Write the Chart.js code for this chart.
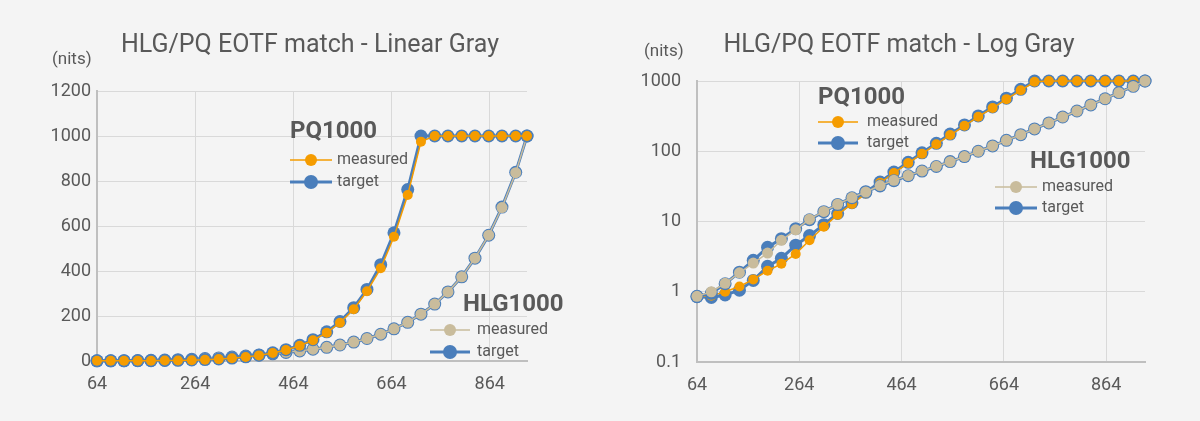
<!DOCTYPE html>
<html><head><meta charset="utf-8">
<script src="https://cdn.jsdelivr.net/npm/chart.js@4/dist/chart.umd.min.js"></script>
<style>
html,body{margin:0;padding:0;background:#f4f4f4;}
#wrap{display:flex;width:1200px;height:421px;}
.box{position:relative;width:600px;height:421px;}
canvas{display:block;}
</style></head><body>
<div id="wrap"><div class="box"><canvas id="c1" width="600" height="421"></canvas></div><div class="box"><canvas id="c2" width="600" height="421"></canvas></div></div>
<script>
// ---- data ----
const codeValues = [64, 92, 119, 147, 174, 202, 229, 257, 284, 312, 339, 367, 394, 422, 449, 477, 504, 532, 559, 587, 614, 642, 669, 697, 724, 752, 779, 807, 834, 862, 889, 917, 940];
const pqMeasured = [0.85, 0.88, 1.0, 1.19, 1.5, 1.99, 2.5, 3.45, 5.4, 8.4, 12.5, 17.8, 25, 35.5, 49, 68, 92, 126, 170, 230, 310, 412, 552, 738, 975, 1000, 1000, 1000, 1000, 1000, 1000, 1000, 1000];
const pqTarget = [0.85, 0.83, 0.9, 1.05, 1.45, 2.3, 3.0, 4.6, 6.3, 9.0, 13, 18.5, 26, 36.5, 50.5, 69.5, 95, 129.5, 175.5, 237, 318, 428, 570, 762, 1000, 1000, 1000, 1000, 1000, 1000, 1000, 1000, 1000];
const hlgMeasured = [0.86, 1.0, 1.32, 1.86, 2.56, 3.55, 5.4, 7.6, 10.8, 13.9, 17.6, 21.9, 26.3, 32.5, 38.5, 45, 52.5, 61, 71, 84, 100, 119, 143, 172, 208, 253, 307, 374, 457, 559, 682, 837, 1000];
const hlgTarget = [0.86, 0.95, 1.3, 1.9, 2.8, 4.3, 5.7, 7.9, 10.6, 13.8, 17.5, 21.8, 26.6, 32, 38, 44.8, 52.2, 60.7, 71.2, 84, 100, 119, 143, 172, 208, 253, 307, 374, 457, 559, 684, 839, 1000];
const xTicks = [64, 264, 464, 664, 864];
const linearYTicks = [0, 200, 400, 600, 800, 1000, 1200];
const logYTicks = [0.1, 1, 10, 100, 1000];
const logYLabels = ['0.1', '1', '10', '100', '1000'];
const chartTitles = ['HLG/PQ EOTF match - Linear Gray', 'HLG/PQ EOTF match - Log Gray'];
const unitLabel = '(nits)';
const groupNames = ['PQ1000', 'HLG1000'];
const seriesNames = ['measured', 'target'];

// ---- styles ----
const FONT = 'Roboto, "Open Sans", sans-serif';
const TXT = '#595959';
const ORANGE = '#f59c00';
const BLUE = '#4a7ebb';
const TAN = '#c9bc9c';
const GRID = '#d9d9d9';
const AXIS = '#bfbfbf';

const pts = arr => codeValues.map((x, i) => ({x: x, y: arr[i]}));

function ds(label, arr, color, lw, r, order) {
  return {label: label, data: pts(arr), showLine: true, borderColor: color, backgroundColor: color,
    borderWidth: lw, pointRadius: r, pointHoverRadius: r, pointBorderWidth: 0,
    pointBackgroundColor: color, order: order, clip: false, tension: 0};
}

function legendPlugin(cfg) {
  return {
    id: 'deco',
    afterDraw(chart) {
      const ctx = chart.ctx;
      ctx.save();
      ctx.fillStyle = TXT;
      ctx.textBaseline = 'middle';
      // title
      ctx.font = '25px ' + FONT;
      ctx.textAlign = 'center';
      ctx.fillText(cfg.title, cfg.titleX, cfg.titleY);
      // unit
      ctx.font = '17px ' + FONT;
      ctx.textAlign = 'left';
      ctx.fillText(unitLabel, cfg.unitX, cfg.unitY);
      // legends
      cfg.legends.forEach(lg => {
        ctx.font = 'bold 24px ' + FONT;
        ctx.fillStyle = TXT;
        ctx.textAlign = 'left';
        ctx.fillText(lg.name, lg.x, lg.y);
        lg.items.forEach((it, k) => {
          const yy = lg.y + lg.dy0 + k * lg.dy;
          ctx.strokeStyle = it.color;
          ctx.lineWidth = it.lw;
          ctx.beginPath();
          ctx.moveTo(lg.lx0, yy);
          ctx.lineTo(lg.lx1, yy);
          ctx.stroke();
          ctx.fillStyle = it.color;
          ctx.beginPath();
          ctx.arc((lg.lx0 + lg.lx1) / 2, yy, it.r, 0, Math.PI * 2);
          ctx.fill();
          ctx.fillStyle = TXT;
          ctx.font = '16px ' + FONT;
          ctx.fillText(it.label, lg.tx, yy);
        });
      });
      ctx.restore();
    }
  };
}

function makeChart(id, isLog, layoutCfg, deco, datasets) {
  const yTicks = isLog ? logYTicks : linearYTicks;
  return new Chart(document.getElementById(id), {
    type: 'scatter',
    data: {datasets: datasets},
    options: {
      responsive: false, animation: false, devicePixelRatio: 1,
      layout: {padding: layoutCfg.padding},
      plugins: {legend: {display: false}, tooltip: {enabled: false}, title: {display: false}},
      scales: {
        x: {
          type: 'linear', min: 64, max: 940,
          afterBuildTicks: s => { s.ticks = xTicks.map(v => ({value: v})); },
          afterFit: s => { s.height = 40; },
          ticks: {color: TXT, font: {family: FONT, size: 18}, padding: layoutCfg.xPad, maxRotation: 0, autoSkip: false,
            callback: v => String(v)},
          grid: {color: GRID, lineWidth: 1, drawTicks: false},
          border: {color: AXIS, width: 2}
        },
        y: {
          type: isLog ? 'logarithmic' : 'linear',
          min: yTicks[0], max: yTicks[yTicks.length - 1],
          afterBuildTicks: s => { s.ticks = yTicks.map(v => ({value: v})); },
          afterFit: s => { s.width = layoutCfg.yWidth; },
          ticks: {color: TXT, font: {family: FONT, size: 18}, padding: layoutCfg.yPad, autoSkip: false,
            callback: v => isLog ? logYLabels[logYTicks.indexOf(v)] : String(v)},
          grid: {color: GRID, lineWidth: 1, drawTicks: false},
          border: {color: AXIS, width: 2}
        }
      }
    },
    plugins: [legendPlugin(deco)]
  });
}

// Left: linear
makeChart('c1', false,
  {padding: {left: 0, right: 73, top: 91, bottom: 20}, yWidth: 97, yPad: 6, xPad: 13},
  {title: chartTitles[0], titleX: 310, titleY: 46, unitX: 52, unitY: 60,
   legends: [
     {name: groupNames[0], x: 290, y: 132, lx0: 290, lx1: 332, tx: 337, dy0: 28, dy: 22,
      items: [{label: seriesNames[0], color: ORANGE, lw: 1.5, r: 6}, {label: seriesNames[1], color: BLUE, lw: 3, r: 7}]},
     {name: groupNames[1], x: 463, y: 305, lx0: 430, lx1: 470, tx: 477, dy0: 25, dy: 22,
      items: [{label: seriesNames[0], color: TAN, lw: 1.5, r: 6}, {label: seriesNames[1], color: BLUE, lw: 3, r: 7}]}
   ]},
  [
    ds('PQ measured', pqMeasured, ORANGE, 1.5, 5, 0),
    ds('PQ target', pqTarget, BLUE, 3, 6.5, 1),
    ds('HLG measured', hlgMeasured, TAN, 1.5, 5.5, 2),
    ds('HLG target', hlgTarget, BLUE, 3, 6.5, 3)
  ]);

// Right: log
makeChart('c2', true,
  {padding: {left: 0, right: 55, top: 81, bottom: 19}, yWidth: 97, yPad: 16, xPad: 13},
  {title: chartTitles[1], titleX: 299, titleY: 46, unitX: 44, unitY: 52,
   legends: [
     {name: groupNames[0], x: 218, y: 98, lx0: 218, lx1: 258, tx: 267, dy0: 24, dy: 21,
      items: [{label: seriesNames[0], color: ORANGE, lw: 1.5, r: 6}, {label: seriesNames[1], color: BLUE, lw: 3, r: 7}]},
     {name: groupNames[1], x: 430, y: 162, lx0: 395, lx1: 437, tx: 442, dy0: 25, dy: 21,
      items: [{label: seriesNames[0], color: TAN, lw: 1.5, r: 6}, {label: seriesNames[1], color: BLUE, lw: 3, r: 7}]}
   ]},
  [
    ds('HLG measured', hlgMeasured, TAN, 1.5, 5.5, 0),
    ds('HLG target', hlgTarget, BLUE, 3, 6.5, 1),
    ds('PQ measured', pqMeasured, ORANGE, 1.5, 5, 2),
    ds('PQ target', pqTarget, BLUE, 3, 6.5, 3)
  ]);
</script>
</body></html>
